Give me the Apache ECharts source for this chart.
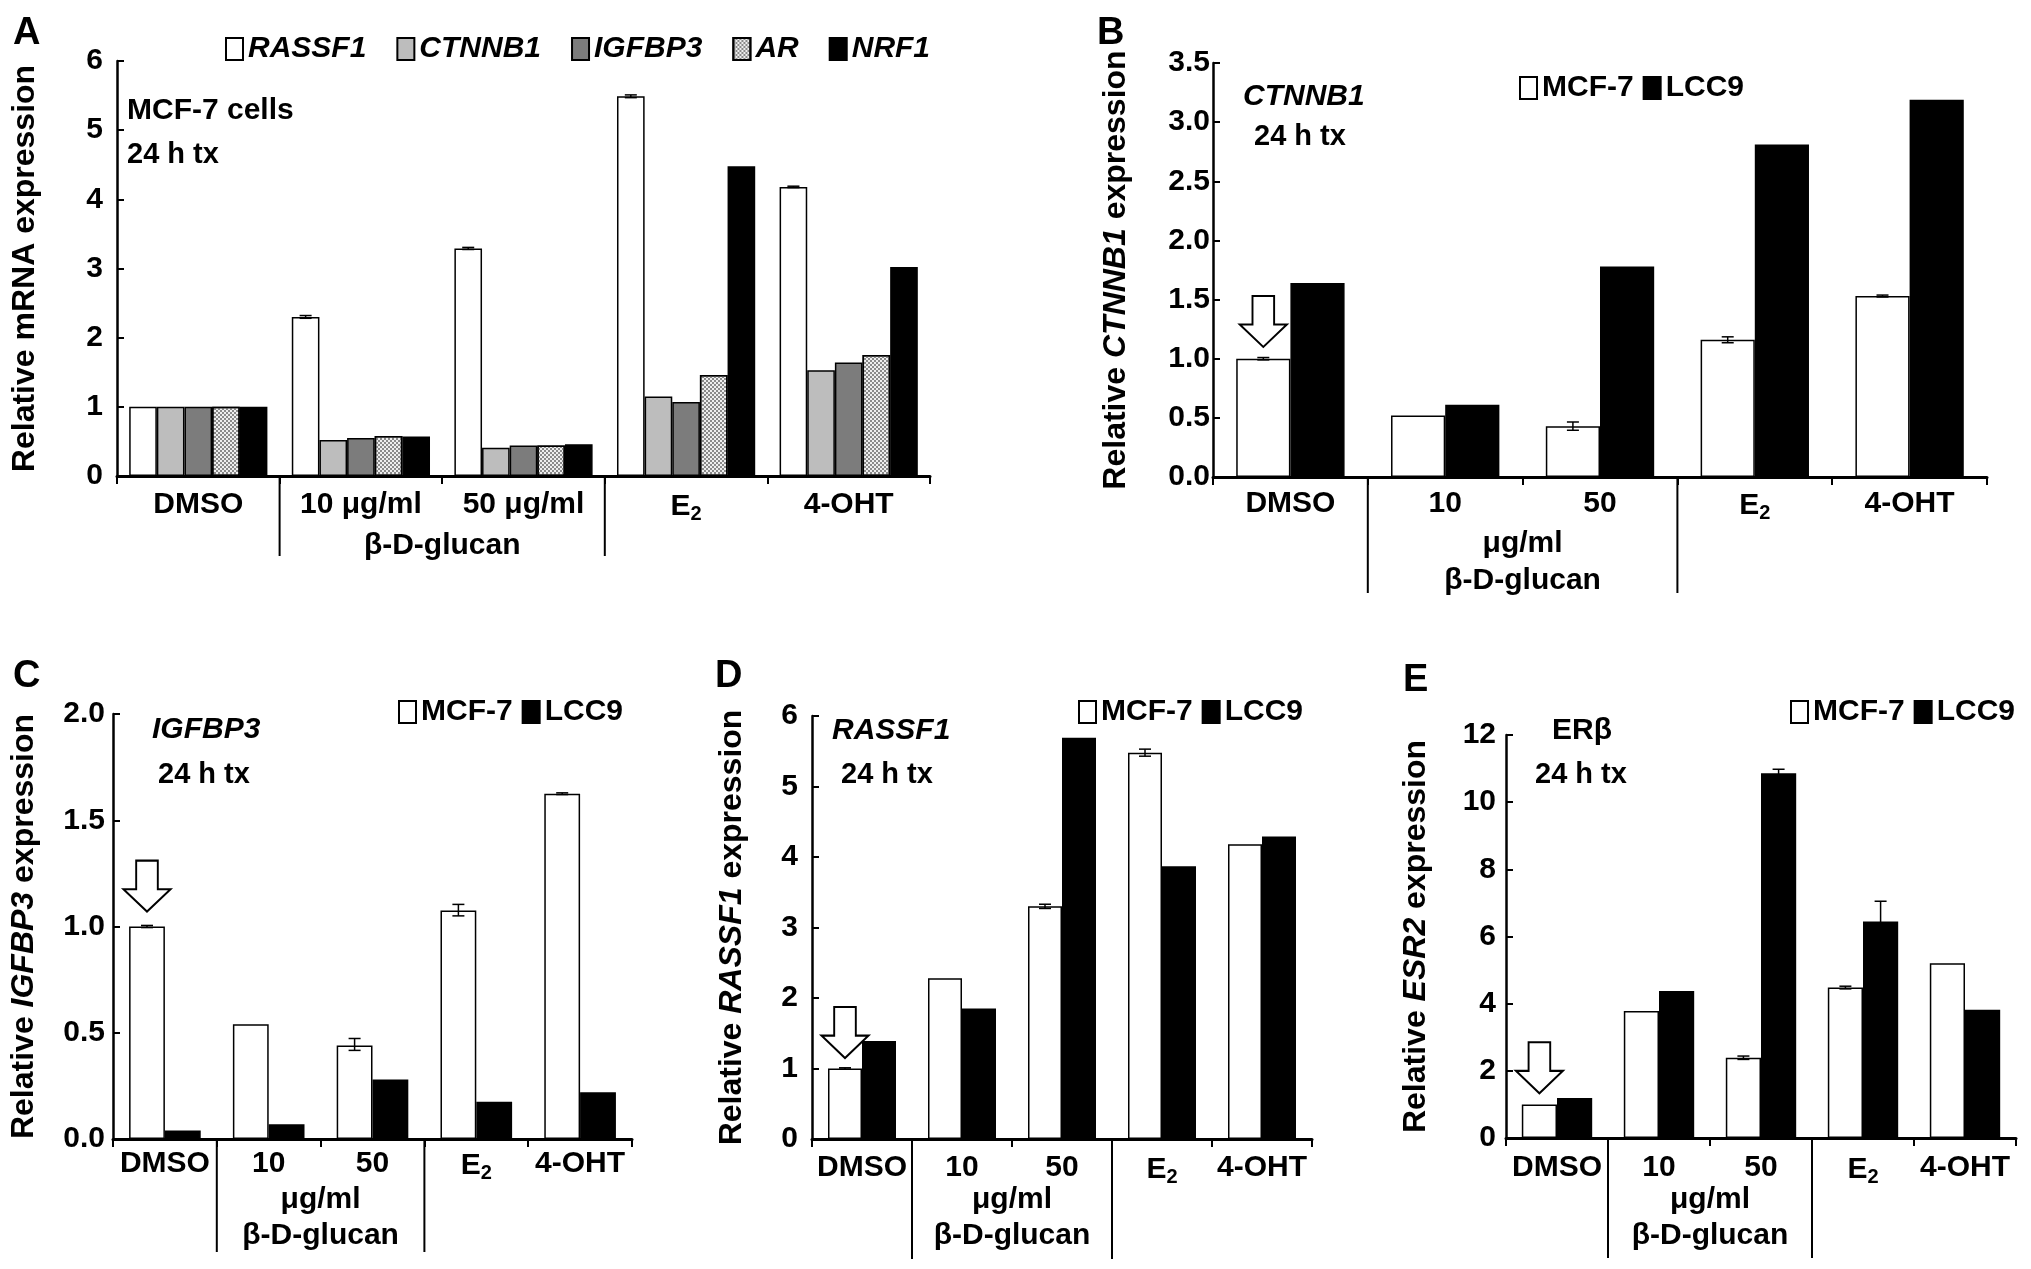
<!DOCTYPE html>
<html>
<head>
<meta charset="utf-8">
<script src="https://cdn.jsdelivr.net/npm/echarts@6/dist/echarts.min.js"></script>
<style>
  html, body { margin: 0; padding: 0; background: #fff; }
  #main { width: 2031px; height: 1269px; }
</style>
</head>
<body>
<div id="main"></div>
<script>
var FONT = "'Liberation Sans', Arial, Helvetica, sans-serif";

// ---- panel A: MCF-7 cells, five genes
var catsA = ['DMSO', '10 μg/ml', '50 μg/ml', 'E2', '4-OHT'];
var genesA = ['RASSF1', 'CTNNB1', 'IGFBP3', 'AR', 'NRF1'];
var rassf1A = [1, 2.30, 3.29, 5.49, 4.18];
var ctnnb1A = [1, 0.52, 0.41, 1.15, 1.53];
var igfbp3A = [1, 0.55, 0.44, 1.07, 1.64];
var arA = [1, 0.58, 0.44, 1.46, 1.75];
var nrf1A = [1, 0.57, 0.46, 4.48, 3.02];
var errA = [[1, 2.30, 0.02], [2, 3.29, 0.015], [3, 5.49, 0.02], [4, 4.18, 0.01]];

// ---- panels B-E: MCF-7 vs LCC9
var cats = ['DMSO', '10', '50', 'E2', '4-OHT'];
var cells = ['MCF-7', 'LCC9'];
// group separators sit on the left edge of these categories
var sepIdx = [1, 3];

var mcfB = [1.0, 0.52, 0.43, 1.16, 1.53];
var lccB = [1.64, 0.61, 1.78, 2.81, 3.19];
var errB = [[0, 1.0, 0.01], [2, 0.43, 0.035], [3, 1.16, 0.025], [4, 1.53, 0.008]];
var arrowB = [0, 1.315];

var mcfC = [1.0, 0.54, 0.44, 1.075, 1.625];
var lccC = [0.04, 0.07, 0.28, 0.175, 0.22];
var errC = [[0, 1.0, 0.005], [2, 0.445, 0.028], [3, 1.077, 0.027], [4, 1.625, 0.004]];
var arrowC = [0, 1.19];

var mcfD = [1.0, 2.28, 3.30, 5.48, 4.18];
var lccD = [1.39, 1.85, 5.69, 3.87, 4.29];
var errD = [[0, 1.0, 0.01], [2, 3.30, 0.03], [3, 5.48, 0.05]];
var arrowD = [0, 1.51];

var mcfE = [1.0, 3.78, 2.39, 4.48, 5.20];
var lccE = [1.19, 4.38, 10.86, 6.45, 3.82];
var errEm = [[2, 2.39, 0.05], [3, 4.48, 0.04]];
var errEl = [[2, 10.86, 0.12], [3, 6.45, 0.6]];
var arrowE = [0, 2.09];

function richLabel(v) {
  if (v === 'E2') return '{b|E}{s|2}';
  return '{b|' + v + '}';
}
var labelRich = {
  b: { fontFamily: FONT, fontWeight: 'bold', fontSize: 30, color: '#000' },
  s: { fontFamily: FONT, fontWeight: 'bold', fontSize: 20, color: '#000', padding: [14, 0, 0, 0] }
};

var grids = [
  { left: 117, top: 61, width: 813, height: 415 },
  { left: 1213, top: 63, width: 774, height: 414 },
  { left: 113, top: 714, width: 519, height: 425 },
  { left: 812, top: 716, width: 500, height: 423 },
  { left: 1506, top: 735, width: 510, height: 403 }
];
var sepLen = [80, 116, 113, 120, 120];
var labMargin = [14, 12, 10, 14, 15];

var xAxes = [], yAxes = [];
var catList = [catsA, cats, cats, cats, cats];
for (var g = 0; g < 5; g++) {
  xAxes.push({
    type: 'category', gridIndex: g, data: catList[g], position: 'bottom',
    axisLine: { lineStyle: { color: '#000', width: 3 } },
    axisTick: { show: true, length: 8, lineStyle: { color: '#000', width: 2 } },
    axisLabel: { interval: 0, margin: labMargin[g], formatter: richLabel, rich: labelRich }
  });
}

function yAxis(g, name, max, interval, dec, margin, gap) {
  return {
    type: 'value', gridIndex: g, min: 0, max: max, interval: interval,
    splitLine: { show: false },
    axisLine: { show: true, lineStyle: { color: '#000', width: 2.5 } },
    axisTick: { show: true, inside: true, length: 7, lineStyle: { color: '#000', width: 2 } },
    axisLabel: {
      fontFamily: FONT, fontWeight: 'bold', fontSize: 30, color: '#000', margin: margin,
      formatter: function (v) { return v.toFixed(dec); }
    },
    name: name, nameLocation: 'middle', nameRotate: 90, nameGap: gap,
    nameTextStyle: {
      rich: {
        n: { fontFamily: FONT, fontWeight: 'bold', fontSize: 32, color: '#000' },
        i: { fontFamily: FONT, fontWeight: 'bold', fontStyle: 'italic', fontSize: 32, color: '#000' }
      }
    }
  };
}
yAxes.push(yAxis(0, '{n|Relative mRNA expression}', 6, 1, 0, 14, 76));
yAxes.push(yAxis(1, '{n|Relative }{i|CTNNB1}{n| expression}', 3.5, 0.5, 1, 3, 81));
yAxes.push(yAxis(2, '{n|Relative }{i|IGFBP3}{n| expression}', 2, 0.5, 1, 8, 73));
yAxes.push(yAxis(3, '{n|Relative }{i|RASSF1}{n| expression}', 6, 1, 0, 14, 64));
yAxes.push(yAxis(4, '{n|Relative }{i|ESR2}{n| expression}', 12, 2, 0, 10, 74));

function barStyle(color, decal) {
  var s = { color: color, borderColor: '#000', borderWidth: 1.5 };
  if (decal) s.decal = decal;
  return s;
}
var arDecal = {
  symbol: 'rect', symbolSize: 1, color: '#8a8a8a',
  dashArrayX: [[2, 2], [0, 2, 2, 0]], dashArrayY: [2, 0]
};

var series = [];
var colorsA = ['#ffffff', '#bdbdbd', '#7c7c7c', '#eeeeee', '#000000'];
var valsA = [rassf1A, ctnnb1A, igfbp3A, arA, nrf1A];
for (var k = 0; k < 5; k++) {
  series.push({
    type: 'bar', name: genesA[k], xAxisIndex: 0, yAxisIndex: 0, data: valsA[k],
    barGap: '0%', barCategoryGap: '15%',
    itemStyle: barStyle(colorsA[k], k === 3 ? arDecal : null)
  });
}

function errSeries(ax, data, idx, n, gap) {
  return {
    type: 'custom', xAxisIndex: ax, yAxisIndex: ax, data: data, z: 5, silent: true, clip: false,
    encode: { x: 0, y: 1 },
    renderItem: function (params, api) {
      var c = api.value(0), v = api.value(1), e = api.value(2);
      var band = api.size([1, 0])[0];
      var bw = band * (1 - gap) / n;
      var dx = (idx - (n - 1) / 2) * bw;
      var top = api.coord([c, v + e]), bot = api.coord([c, v - e]);
      var x = top[0] + dx, cap = 6;
      var st = { stroke: '#000', lineWidth: 1.5 };
      return {
        type: 'group', children: [
          { type: 'line', shape: { x1: x, y1: top[1], x2: x, y2: bot[1] }, style: st },
          { type: 'line', shape: { x1: x - cap, y1: top[1], x2: x + cap, y2: top[1] }, style: st },
          { type: 'line', shape: { x1: x - cap, y1: bot[1], x2: x + cap, y2: bot[1] }, style: st }
        ]
      };
    }
  };
}

// long vertical lines below the axis that split the groups
function sepSeries(ax, len) {
  return {
    type: 'custom', xAxisIndex: ax, yAxisIndex: ax, silent: true, clip: false, z: 5,
    data: sepIdx.map(function (i) { return [i, 0]; }),
    encode: { x: 0, y: 1 },
    renderItem: function (params, api) {
      var p = api.coord([api.value(0), 0]);
      var band = api.size([1, 0])[0];
      var x = p[0] - band / 2;
      return {
        type: 'line', shape: { x1: x, y1: p[1], x2: x, y2: p[1] + len },
        style: { stroke: '#000', lineWidth: 2 }
      };
    }
  };
}

series.push(errSeries(0, errA, 0, 5, 0.15));
series.push(sepSeries(0, sepLen[0]));

var arrowPath = 'path://M27,0 L73,0 L73,56 L100,56 L50,100 L0,56 L27,56 Z';
function pairSeries(ax, mcf, lcc, arrow, gap) {
  series.push({
    type: 'bar', name: 'MCF-7', xAxisIndex: ax, yAxisIndex: ax, data: mcf,
    barGap: '0%', barCategoryGap: (gap * 100) + '%',
    itemStyle: barStyle('#ffffff'),
    markPoint: {
      symbol: arrowPath, symbolSize: [47, 51], symbolKeepAspect: false, silent: true,
      itemStyle: { color: '#fff', borderColor: '#000', borderWidth: 2 },
      label: { show: false },
      data: [{ coord: arrow }]
    }
  });
  series.push({
    type: 'bar', name: 'LCC9', xAxisIndex: ax, yAxisIndex: ax, data: lcc,
    barGap: '0%', barCategoryGap: (gap * 100) + '%',
    itemStyle: barStyle('#000000')
  });
  series.push(sepSeries(ax, sepLen[ax]));
}
pairSeries(1, mcfB, lccB, arrowB, 0.30);
series.push(errSeries(1, errB, 0, 2, 0.30));
pairSeries(2, mcfC, lccC, arrowC, 0.31);
series.push(errSeries(2, errC, 0, 2, 0.31));
pairSeries(3, mcfD, lccD, arrowD, 0.32);
series.push(errSeries(3, errD, 0, 2, 0.32));
pairSeries(4, mcfE, lccE, arrowE, 0.31);
series.push(errSeries(4, errEm, 0, 2, 0.31));
series.push(errSeries(4, errEl, 1, 2, 0.31));

function legend(left, top, data, italic, gap) {
  return {
    left: left, top: top, data: data, icon: 'rect', itemWidth: 17, itemHeight: 22,
    itemGap: gap, padding: 0, selectedMode: false,
    textStyle: { fontFamily: FONT, fontWeight: 'bold', fontStyle: italic ? 'italic' : 'normal', fontSize: 30, color: '#000' }
  };
}
var legends = [
  legend(225, 34, genesA, true, 30),
  legend(1519, 73, cells, false, 9),
  legend(398, 697, cells, false, 9),
  legend(1078, 697, cells, false, 9),
  legend(1790, 697, cells, false, 9)
];

function txt(x, y, s, size, italic) {
  return {
    type: 'text', x: x, y: y, silent: true,
    style: {
      text: s, fill: '#000', font: (italic ? 'italic ' : '') + 'bold ' + size + 'px ' + FONT,
      verticalAlign: 'middle', align: 'left'
    }
  };
}
var staticText = [
  txt(13, 34, 'A', 38), txt(1097, 34, 'B', 38), txt(13, 677, 'C', 38),
  txt(715, 677, 'D', 38), txt(1403, 681, 'E', 38),
  txt(127, 111, 'MCF-7 cells', 30), txt(127, 155, '24 h tx', 29),
  txt(1243, 97, 'CTNNB1', 30, true), txt(1254, 137, '24 h tx', 29),
  txt(152, 730, 'IGFBP3', 30, true), txt(158, 775, '24 h tx', 29),
  txt(832, 731, 'RASSF1', 30, true), txt(841, 775, '24 h tx', 29),
  txt(1552, 731, 'ERβ', 30), txt(1535, 775, '24 h tx', 29)
];

var chart = echarts.init(document.getElementById('main'));
chart.setOption({
  animation: false,
  backgroundColor: '#fff',
  grid: grids,
  xAxis: xAxes,
  yAxis: yAxes,
  legend: legends,
  series: series,
  graphic: staticText
});

// group captions centred on the boundary between the 10 and 50 categories
function centreText(ax, y, s) {
  var p1 = chart.convertToPixel({ xAxisIndex: ax }, 1);
  var p2 = chart.convertToPixel({ xAxisIndex: ax }, 2);
  var t = txt((p1 + p2) / 2, y, s, 30);
  t.style.align = 'center';
  return t;
}
var extra = [centreText(0, 546, 'β-D-glucan'),
  centreText(1, 544, 'μg/ml'), centreText(1, 581, 'β-D-glucan'),
  centreText(2, 1200, 'μg/ml'), centreText(2, 1236, 'β-D-glucan'),
  centreText(3, 1200, 'μg/ml'), centreText(3, 1236, 'β-D-glucan'),
  centreText(4, 1200, 'μg/ml'), centreText(4, 1236, 'β-D-glucan')];
chart.setOption({ graphic: staticText.concat(extra) });
</script>
</body>
</html>
